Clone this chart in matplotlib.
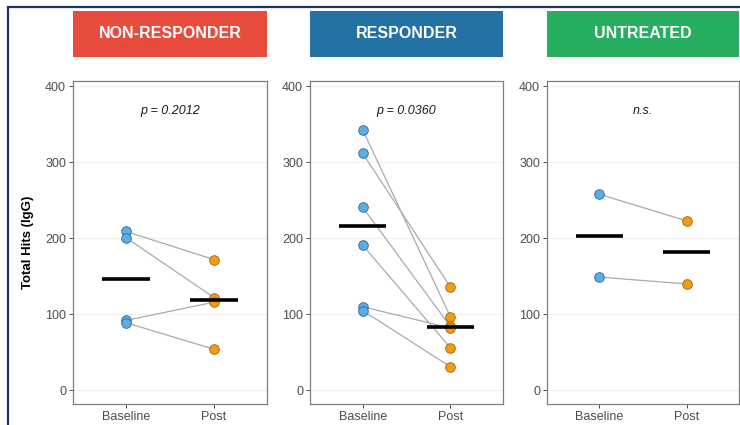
import numpy as np
import matplotlib
matplotlib.use("Agg")
import matplotlib.pyplot as plt
from matplotlib.patches import Rectangle

plt.rcParams["font.family"] = ["Liberation Sans", "DejaVu Sans"]

groups = ["NON-RESPONDER", "RESPONDER", "UNTREATED"]
strip_colors = ["#E74C3C", "#2471A3", "#27AE60"]
p_labels = ["p = 0.2012", "p = 0.0360", "n.s."]
timepoints = ["Baseline", "Post"]

nonresp_baseline = [209, 201, 92, 89]
nonresp_post = [172, 122, 116, 54]
resp_baseline = [343, 312, 241, 191, 110, 105]
resp_post = [97, 136, 84, 56, 82, 31]
untreated_baseline = [258, 149]
untreated_post = [223, 140]

baselines = [nonresp_baseline, resp_baseline, untreated_baseline]
posts = [nonresp_post, resp_post, untreated_post]

W, H = 740, 425
fig = plt.figure(figsize=(W / 100, H / 100), dpi=100)

# outer frame (top and left edges visible)
fig.patches.append(Rectangle((8 / W, -0.1), 1.2, (H - 7) / H + 0.1, transform=fig.transFigure,
                             fill=False, edgecolor="#1C3560", linewidth=1.6, zorder=0))

lefts = [73, 310, 547]
widths = [194, 193, 192]

for i in range(3):
    l, w = lefts[i], widths[i]
    ax = fig.add_axes([l / W, 21 / H, w / W, 323 / H])
    base = baselines[i]
    post = posts[i]
    for b, p in zip(base, post):
        ax.plot([1, 2], [b, p], color="#AAAAAA", linewidth=0.9, zorder=2)
    ax.scatter([1] * len(base), base, s=48, color="#5DADE2", edgecolor="#2E6A94",
               linewidth=0.6, zorder=3)
    ax.scatter([2] * len(post), post, s=48, color="#F39C12", edgecolor="#9C6408",
               linewidth=0.6, zorder=3)
    ax.plot([0.73, 1.27], [np.median(base)] * 2, color="black", linewidth=2.6,
            solid_capstyle="butt", zorder=4)
    ax.plot([1.73, 2.27], [np.median(post)] * 2, color="black", linewidth=2.6,
            solid_capstyle="butt", zorder=4)
    ax.text(1.5, 367, p_labels[i], ha="center", va="center", style="italic",
            fontsize=9, color="#1a1a1a")
    ax.set_xlim(0.4, 2.6)
    ax.set_ylim(-18, 407)
    ax.set_xticks([1, 2])
    ax.set_xticklabels(timepoints)
    ax.set_yticks([0, 100, 200, 300, 400])
    ax.grid(axis="y", color="#F0F0F0", linewidth=0.8)
    ax.set_axisbelow(True)
    ax.tick_params(labelsize=9, colors="#4D4D4D", length=3, width=0.7, pad=2)
    for sp in ax.spines.values():
        sp.set_color("#7F7F7F")
        sp.set_linewidth(0.9)
    if i == 0:
        ax.set_ylabel("Total Hits (IgG)", fontsize=9.5, fontweight="bold", labelpad=8)

    sax = fig.add_axes([l / W, 368 / H, w / W, 46 / H])
    sax.set_facecolor(strip_colors[i])
    sax.set_xticks([])
    sax.set_yticks([])
    for sp in sax.spines.values():
        sp.set_visible(False)
    sax.text(0.5, 0.5, groups[i], ha="center", va="center", color="white",
             fontsize=11.5, fontweight="bold", transform=sax.transAxes)

fig.savefig("out.png", dpi=100)
plt.close()
